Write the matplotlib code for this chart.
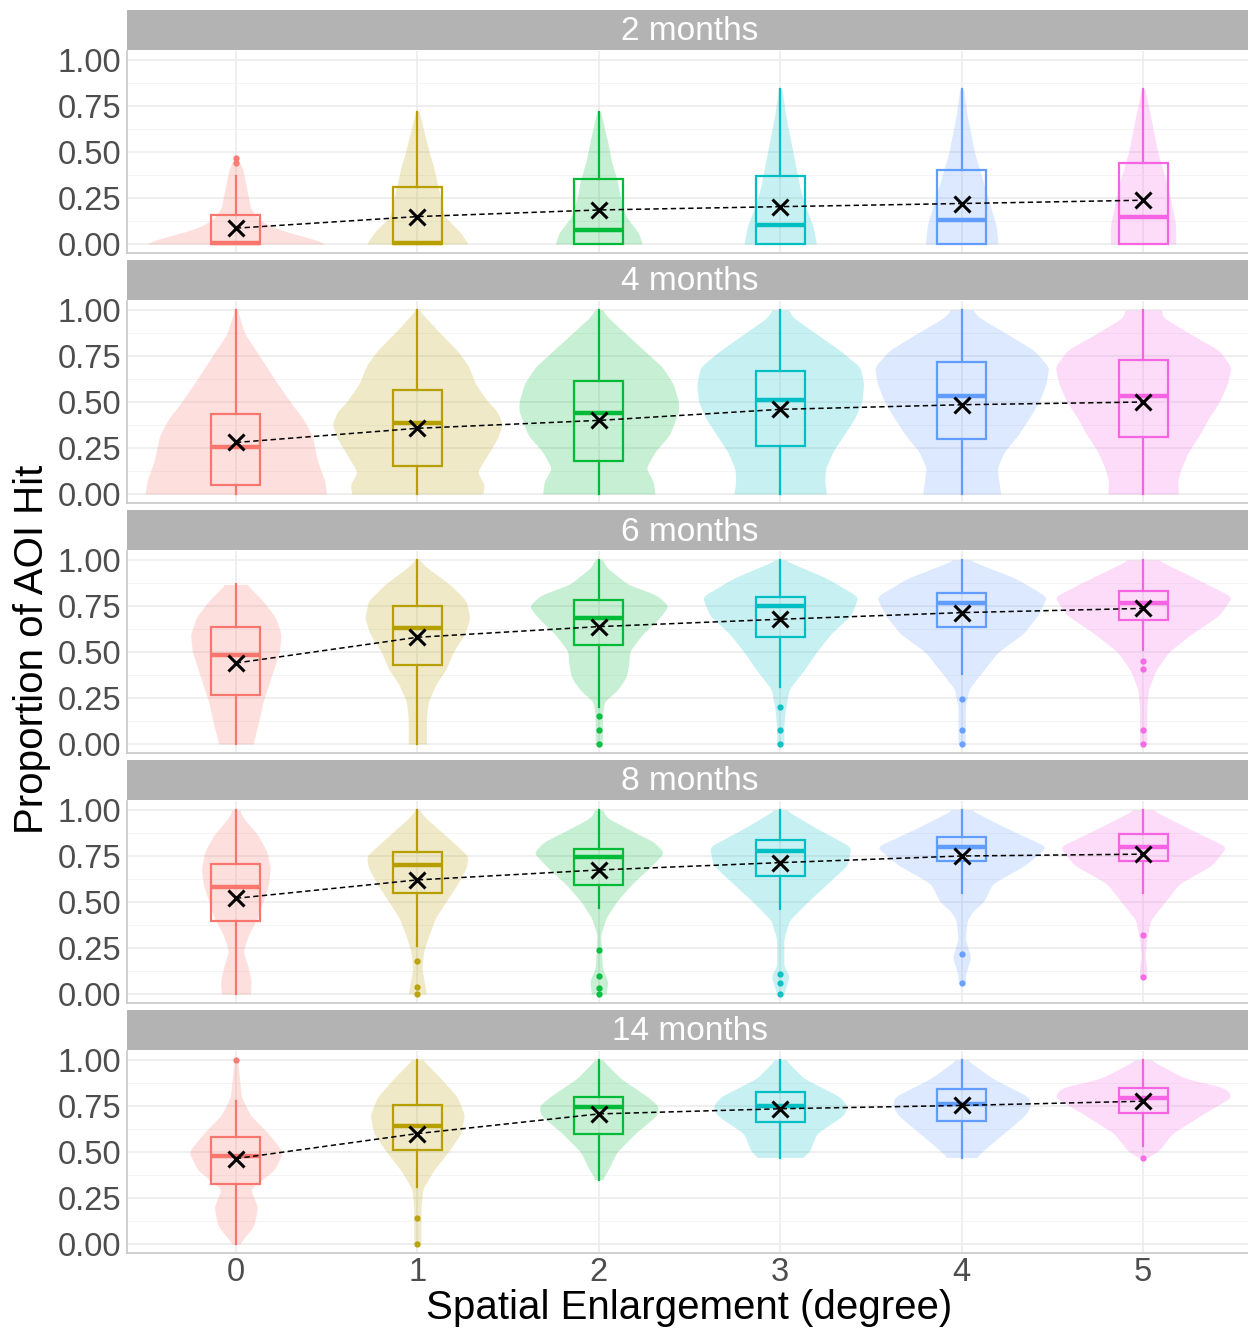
import numpy as np
import matplotlib
matplotlib.use("Agg")
import matplotlib.pyplot as plt

plt.rcParams['font.family'] = ['Liberation Sans', 'DejaVu Sans']

CATEGORIES = [0, 1, 2, 3, 4, 5]
FACETS = ["2 months", "4 months", "6 months", "8 months", "14 months"]
COLORS = ["#F8766D", "#B79F00", "#00BA38", "#00BFC4", "#619CFF", "#F564E3"]
Y_TICKS = [0.00, 0.25, 0.50, 0.75, 1.00]
Y_TICK_LABELS = ["0.00", "0.25", "0.50", "0.75", "1.00"]
X_LABEL = "Spatial Enlargement (degree)"
Y_LABEL = "Proportion of AOI Hit"

MEANS = {
    "2 months":  [0.086, 0.149, 0.185, 0.203, 0.220, 0.238],
    "4 months":  [0.280, 0.357, 0.400, 0.460, 0.485, 0.500],
    "6 months":  [0.440, 0.580, 0.638, 0.678, 0.714, 0.737],
    "8 months":  [0.520, 0.620, 0.674, 0.714, 0.750, 0.760],
    "14 months": [0.464, 0.600, 0.707, 0.735, 0.753, 0.776],
}
MEDIANS = {
    "2 months":  [0.005, 0.005, 0.077, 0.104, 0.130, 0.145],
    "4 months":  [0.254, 0.384, 0.440, 0.510, 0.530, 0.530],
    "6 months":  [0.484, 0.630, 0.687, 0.748, 0.765, 0.766],
    "8 months":  [0.583, 0.700, 0.746, 0.777, 0.797, 0.800],
    "14 months": [0.477, 0.640, 0.744, 0.749, 0.762, 0.794],
}
Q1 = {
    "2 months":  [0.000, 0.000, 0.000, 0.000, 0.000, 0.000],
    "4 months":  [0.050, 0.152, 0.180, 0.260, 0.300, 0.310],
    "6 months":  [0.266, 0.430, 0.540, 0.583, 0.634, 0.674],
    "8 months":  [0.397, 0.550, 0.592, 0.641, 0.723, 0.723],
    "14 months": [0.328, 0.513, 0.600, 0.662, 0.671, 0.711],
}
Q3 = {
    "2 months":  [0.158, 0.310, 0.355, 0.370, 0.400, 0.440],
    "4 months":  [0.435, 0.565, 0.615, 0.670, 0.720, 0.730],
    "6 months":  [0.634, 0.750, 0.780, 0.797, 0.820, 0.833],
    "8 months":  [0.707, 0.770, 0.788, 0.837, 0.855, 0.870],
    "14 months": [0.581, 0.758, 0.800, 0.825, 0.841, 0.848],
}
WHISK_LO = {
    "2 months":  [0.0, 0.0, 0.0, 0.0, 0.0, 0.0],
    "4 months":  [0.0, 0.0, 0.0, 0.0, 0.0, 0.0],
    "6 months":  [0.0, 0.0, 0.20, 0.31, 0.38, 0.51],
    "8 months":  [0.0, 0.26, 0.47, 0.46, 0.55, 0.55],
    "14 months": [0.0, 0.31, 0.35, 0.47, 0.47, 0.53],
}
WHISK_HI = {
    "2 months":  [0.37, 0.72, 0.72, 0.84, 0.84, 0.84],
    "4 months":  [1.0, 1.0, 1.0, 1.0, 1.0, 1.0],
    "6 months":  [0.867, 1.0, 1.0, 1.0, 1.0, 1.0],
    "8 months":  [1.0, 1.0, 1.0, 1.0, 1.0, 1.0],
    "14 months": [0.776, 1.0, 1.0, 1.0, 1.0, 1.0],
}
OUTLIERS = {
    "2 months":  [[0.44, 0.465], [], [], [], [], []],
    "4 months":  [[], [], [], [], [], []],
    "6 months":  [[], [], [0.15, 0.075, 0.0], [0.2, 0.076, 0.0], [0.243, 0.075, 0.0], [0.45, 0.41, 0.075, 0.0]],
    "8 months":  [[], [0.18, 0.04, 0.0], [0.24, 0.10, 0.03, 0.0], [0.11, 0.06, 0.0], [0.22, 0.06], [0.32, 0.09]],
    "14 months": [[1.0], [0.14, 0.0], [], [], [], [0.47]],
}

# Violin outlines: (y, half-width in category units) pairs
VIOLINS = {
    "2 months": [
        [(0, .50), (.03, .42), (.06, .30), (.10, .18), (.15, .11), (.20, .08), (.30, .06), (.40, .04), (.47, .01)],
        [(0, .28), (.06, .24), (.15, .15), (.24, .13), (.33, .11), (.42, .09), (.50, .065), (.60, .04), (.72, .01)],
        [(0, .24), (.06, .22), (.15, .15), (.25, .12), (.35, .10), (.45, .07), (.55, .05), (.72, .01)],
        [(0, .20), (.10, .18), (.20, .14), (.30, .11), (.40, .09), (.50, .07), (.60, .05), (.70, .03), (.84, .01)],
        [(0, .20), (.10, .19), (.20, .16), (.30, .13), (.40, .10), (.50, .07), (.60, .05), (.70, .03), (.84, .01)],
        [(0, .18), (.10, .18), (.20, .16), (.30, .14), (.40, .11), (.50, .08), (.60, .06), (.70, .04), (.84, .01)],
    ],
    "4 months": [
        [(0, .50), (.07, .49), (.18, .45), (.32, .42), (.41, .37), (.50, .30), (.60, .23), (.69, .17), (.78, .11), (.87, .05), (.96, .02), (1.0, .01)],
        [(0, .36), (.05, .37), (.12, .33), (.20, .38), (.30, .44), (.38, .47), (.45, .44), (.50, .39), (.60, .32), (.70, .28), (.78, .22), (.87, .13), (.96, .045), (1.0, .01)],
        [(0, .31), (.07, .30), (.14, .26), (.23, .31), (.32, .39), (.45, .44), (.50, .44), (.60, .41), (.69, .35), (.78, .25), (.87, .15), (.96, .05), (1.0, .02)],
        [(0, .255), (.07, .245), (.14, .25), (.23, .29), (.32, .35), (.41, .41), (.50, .45), (.60, .46), (.69, .44), (.78, .33), (.87, .20), (.96, .07), (1.0, .045)],
        [(0, .215), (.07, .205), (.14, .195), (.23, .235), (.32, .31), (.41, .37), (.50, .425), (.60, .465), (.69, .48), (.78, .40), (.87, .25), (.96, .095), (1.0, .06)],
        [(0, .195), (.07, .19), (.14, .21), (.23, .25), (.32, .31), (.41, .36), (.50, .42), (.60, .465), (.69, .485), (.78, .42), (.87, .26), (.96, .11), (1.0, .10)],
    ],
    "6 months": [
        [(0, .095), (.14, .13), (.23, .15), (.32, .18), (.41, .21), (.50, .24), (.595, .25), (.686, .22), (.777, .15), (.867, .06)],
        [(0, .05), (.14, .05), (.23, .06), (.32, .10), (.41, .16), (.505, .20), (.595, .26), (.686, .29), (.777, .27), (.867, .18), (.958, .055), (1.0, .01)],
        [(0, .02), (.15, .02), (.23, .03), (.29, .10), (.36, .15), (.43, .165), (.505, .17), (.595, .24), (.686, .335), (.75, .385), (.81, .32), (.867, .16), (.958, .045), (1.0, .02)],
        [(0, .02), (.10, .02), (.20, .03), (.30, .05), (.40, .13), (.50, .20), (.60, .28), (.70, .39), (.80, .43), (.90, .26), (1.0, .02)],
        [(0, .02), (.10, .02), (.20, .02), (.30, .04), (.40, .12), (.50, .20), (.60, .34), (.70, .42), (.80, .47), (.90, .30), (1.0, .04)],
        [(0, .02), (.10, .02), (.20, .02), (.30, .03), (.40, .07), (.50, .14), (.60, .27), (.70, .42), (.80, .49), (.90, .29), (1.0, .08)],
    ],
    "8 months": [
        [(0, .08), (.069, .085), (.14, .07), (.232, .04), (.323, .07), (.414, .12), (.505, .15), (.595, .18), (.686, .19), (.777, .17), (.867, .12), (.958, .04), (1.0, .02)],
        [(0, .05), (.14, .025), (.232, .035), (.323, .065), (.414, .10), (.505, .16), (.595, .22), (.686, .27), (.75, .28), (.867, .15), (.958, .045), (1.0, .01)],
        [(0, .04), (.069, .05), (.14, .02), (.323, .01), (.414, .04), (.505, .10), (.595, .18), (.686, .28), (.768, .36), (.83, .30), (.867, .22), (.958, .045), (1.0, .02)],
        [(0, .02), (.10, .05), (.15, .02), (.30, .02), (.40, .05), (.50, .15), (.60, .26), (.70, .37), (.80, .39), (.90, .20), (1.0, .03)],
        [(.06, .02), (.10, .02), (.20, .05), (.30, .02), (.40, .03), (.45, .06), (.50, .12), (.60, .17), (.70, .35), (.80, .47), (.90, .25), (1.0, .05)],
        [(.09, .02), (.15, .02), (.20, .01), (.30, .02), (.40, .04), (.50, .12), (.60, .20), (.70, .38), (.80, .46), (.90, .25), (1.0, .05)],
    ],
    "14 months": [
        [(0, .02), (.10, .10), (.20, .12), (.30, .08), (.40, .21), (.50, .26), (.60, .18), (.70, .08), (.80, .03), (.90, .02), (1.0, .01)],
        [(0, .02), (.10, .02), (.20, .02), (.30, .03), (.40, .09), (.50, .17), (.60, .24), (.70, .26), (.80, .22), (.90, .13), (1.0, .03)],
        [(.35, .02), (.40, .05), (.50, .10), (.60, .20), (.70, .32), (.75, .33), (.80, .27), (.90, .12), (1.0, .02)],
        [(.47, .12), (.50, .16), (.60, .20), (.70, .35), (.75, .37), (.80, .33), (.90, .13), (1.0, .03)],
        [(.47, .08), (.50, .11), (.60, .23), (.70, .35), (.75, .38), (.80, .37), (.90, .17), (1.0, .03)],
        [(.47, .02), (.50, .08), (.60, .16), (.70, .32), (.80, .49), (.85, .45), (.90, .23), (1.0, .04)],
    ],
}

W, H = 1248, 1329
fig = plt.figure(figsize=(W / 100, H / 100), dpi=100)
fig.patch.set_facecolor("white")

LEFT_PX, RIGHT_PX = 127, 1252
BOX_W = 0.27


def smooth_outline(pairs):
    """Render a smooth outline through the read (y, width) points."""
    ys = np.array([p[0] for p in pairs], dtype=float)
    ws = np.array([p[1] for p in pairs], dtype=float)
    yf = np.linspace(ys[0], ys[-1], 400)
    wf = np.interp(yf, ys, ws)
    step = yf[1] - yf[0]
    k = int(round(0.06 / max(step, 1e-6))) | 1
    k = max(3, min(k, 151))
    pad = np.pad(wf, k // 2, mode="edge")
    kern = np.hanning(k + 2)[1:-1]
    kern /= kern.sum()
    wf = np.convolve(pad, kern, mode="valid")
    return yf, wf


for i, facet in enumerate(FACETS):
    top_px = 50.8 + 250 * i
    bot_px = 253.2 + 250 * i
    strip_top = 10 + 250 * i
    ax = fig.add_axes([LEFT_PX / W, 1 - bot_px / H, (RIGHT_PX - LEFT_PX) / W, (bot_px - top_px) / H])
    sax = fig.add_axes([LEFT_PX / W, 1 - (top_px - 0.8) / H, (RIGHT_PX - LEFT_PX) / W, (top_px - 0.8 - strip_top) / H])
    sax.set_facecolor("#B3B3B3")
    sax.set_xticks([]); sax.set_yticks([])
    for s in sax.spines.values():
        s.set_visible(False)
    sax.text(0.5, 0.45, facet, transform=sax.transAxes, ha="center", va="center",
             color="white", fontsize=24)

    ax.set_xlim(-0.6, 5.6)
    ax.set_ylim(-0.05, 1.05)
    ax.set_yticks(Y_TICKS)
    ax.set_yticklabels(Y_TICK_LABELS)
    ax.set_yticks([0.125, 0.375, 0.625, 0.875], minor=True)
    ax.set_xticks(CATEGORIES)
    ax.grid(True, which="major", color="#EBEBEB", lw=1.1)
    ax.grid(True, which="minor", axis="y", color="#F3F3F3", lw=0.6)
    ax.set_axisbelow(True)
    ax.tick_params(axis="both", which="both", length=0, labelsize=23.5, labelcolor="#4D4D4D", pad=4)
    for name, s in ax.spines.items():
        if name in ("left", "bottom"):
            s.set_color("#C8C8C8"); s.set_linewidth(1.2)
        else:
            s.set_visible(False)
    if i < len(FACETS) - 1:
        ax.set_xticklabels([])
    else:
        ax.set_xticklabels([str(c) for c in CATEGORIES])
        ax.tick_params(axis="x", pad=3)

    for j, cat in enumerate(CATEGORIES):
        col = COLORS[j]
        yf, wf = smooth_outline(VIOLINS[facet][j])
        ax.fill_betweenx(yf, cat - wf, cat + wf, color=col, alpha=0.22, lw=0, zorder=2)

    for j, cat in enumerate(CATEGORIES):
        col = COLORS[j]
        st = dict(med=MEDIANS[facet][j], q1=Q1[facet][j], q3=Q3[facet][j],
                  whislo=WHISK_LO[facet][j], whishi=WHISK_HI[facet][j],
                  fliers=OUTLIERS[facet][j], mean=MEANS[facet][j])
        ax.bxp([st], positions=[cat], widths=BOX_W, showcaps=False, showmeans=False,
               patch_artist=True, manage_ticks=False,
               boxprops=dict(facecolor="none", edgecolor=col, lw=1.6),
               whiskerprops=dict(color=col, lw=1.6),
               medianprops=dict(color=col, lw=3.2, solid_capstyle="butt"),
               flierprops=dict(marker="o", markerfacecolor=col, markeredgecolor=col,
                               markersize=3.5, alpha=0.9),
               zorder=3)

    ax.plot(CATEGORIES, MEANS[facet], color="black", ls=(0, (3.5, 2.2)), lw=1.1, zorder=4)
    ax.plot(CATEGORIES, MEANS[facet], ls="none", marker="x", color="black",
            markersize=12, markeredgewidth=2.2, zorder=5)

fig.text(0.5 * (LEFT_PX + 1252) / W, 1 - 1308 / H, X_LABEL, ha="center", va="center",
         fontsize=29, color="black")
fig.text(32 / W, 1 - 649 / H, Y_LABEL, ha="center", va="center", rotation=90,
         fontsize=29, color="black")

fig.savefig("out.png", dpi=100, facecolor="white")
